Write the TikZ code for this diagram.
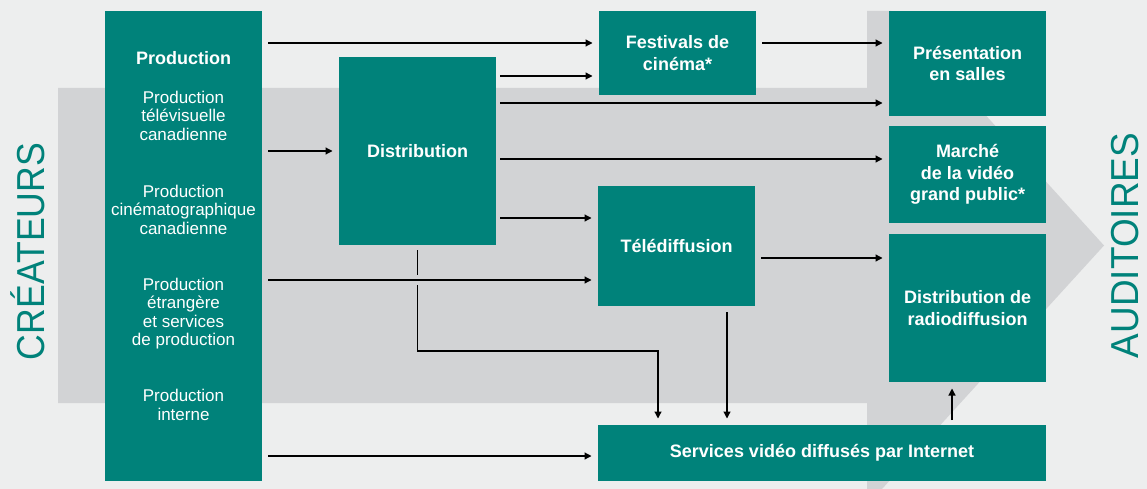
\documentclass[tikz,border=0pt]{standalone}
\usepackage{fontspec}
\usepackage{graphicx}
\setmainfont{Liberation Sans}
\usetikzlibrary{arrows.meta,calc}
\definecolor{bgc}{HTML}{EDEEEE}
\definecolor{bodyc}{HTML}{D2D3D5}
\definecolor{tealc}{HTML}{00827A}
\begin{document}
\begin{tikzpicture}[x=1pt,y=-1pt,
  box/.style={fill=tealc, text=white, inner sep=0pt, outer sep=0pt, anchor=north west, align=center,
    font=\fontsize{18pt}{21.5pt}\selectfont\bfseries},
  sub/.style={text=white, align=center, inner sep=0pt, font=\fontsize{17pt}{18.5pt}\selectfont},
  title/.style={text=white, inner sep=0pt, font=\fontsize{18pt}{21.5pt}\selectfont\bfseries},
  conn/.style={draw=black, line width=1.2pt, -{Triangle[length=7pt,width=7pt]}, shorten <=6pt, shorten >=6.5pt},
  big/.style={text=tealc, rotate=90, anchor=base, inner sep=0pt}]
\useasboundingbox (0,0) rectangle (1147,489);
\fill[bgc] (0,0) rectangle (1147,489);
\fill[bodyc] (58,88) -- (867,88) -- (867,11) -- (891,11) -- (1104,245.5) -- (882,489)
  -- (867,489) -- (867,403) -- (58,403) -- cycle;

% side labels
\node[big] (crea) at (44,251.5) {\resizebox{217pt}{\height}{\fontsize{39pt}{40pt}\selectfont CRÉATEURS}};
\node[big] (aud) at (1138.5,245.5) {\resizebox{225pt}{\height}{\fontsize{39pt}{40pt}\selectfont AUDITOIRES}};

% boxes
\node[box, minimum width=157pt, minimum height=470pt] (prod) at (105,11) {};
\node[box, minimum width=157pt, minimum height=188pt] (dist) at (339,57) {Distribution};
\node[box, minimum width=157pt, minimum height=84pt] (fest) at (599,11) {Festivals de\\cinéma*};
\node[box, minimum width=157pt, minimum height=120pt] (tele) at (598,186) {Télédiffusion};
\node[box, minimum width=448pt, minimum height=56pt] (serv) at (598,425) {Services vidéo diffusés par Internet};
\node[box, minimum width=157pt, minimum height=105pt] (pres) at (889,11) {Présentation\\en salles};
\node[box, minimum width=157pt, minimum height=97pt] (marc) at (889,126) {Marché\\de la vidéo\\grand public*};
\node[box, minimum width=157pt, minimum height=148pt] (radio) at (889,234) {Distribution de\\radiodiffusion};

% production contents
\node[title] (ptitle) at (183.5,58) {Production};
\node[sub] (p1) at (183.5,115.5) {Production\\télévisuelle\\canadienne};
\node[sub] (p2) at (183.5,209.5) {Production\\cinématographique\\canadienne};
\node[sub] (p3) at (183.5,313.5) {Production\\étrangère\\et services\\de production};
\node[sub] (p4) at (183.5,405) {Production\\interne};

% helper coordinates
\coordinate (j1) at (417.5,351);
\coordinate (j2) at (658,351);

% connectors
\draw[conn, shorten <=5pt] (dist.south) -- (j1) -- (j2) -- (serv.north -| j2);
\fill[bodyc] (413,275) rectangle (422,284.5);
\draw[conn] (prod.east |- 0,43) -- (fest.west |- 0,43);
\draw[conn] (prod.east |- 0,151) -- (dist.west |- 0,151);
\draw[conn] (prod.east |- 0,280) -- (tele.west |- 0,280);
\draw[conn] (prod.east |- 0,456) -- (serv.west |- 0,456);
\draw[conn, shorten <=4pt] (dist.east |- 0,76) -- (fest.west |- 0,76);
\draw[conn, shorten <=4pt] (dist.east |- 0,103) -- (pres.west |- 0,103);
\draw[conn, shorten <=4pt] (dist.east |- 0,159) -- (marc.west |- 0,159);
\draw[conn, shorten <=4pt] (dist.east |- 0,218) -- (tele.west |- 0,218);
\draw[conn] (fest.east |- 0,43) -- (pres.west |- 0,43);
\draw[conn] (tele.east |- 0,258) -- (radio.west |- 0,258);
\draw[conn] (tele.south -| 727,0) -- (serv.north -| 727,0);
\draw[conn, shorten <=5pt] (serv.north -| 952,0) -- (radio.south -| 952,0);
\end{tikzpicture}
\end{document}
